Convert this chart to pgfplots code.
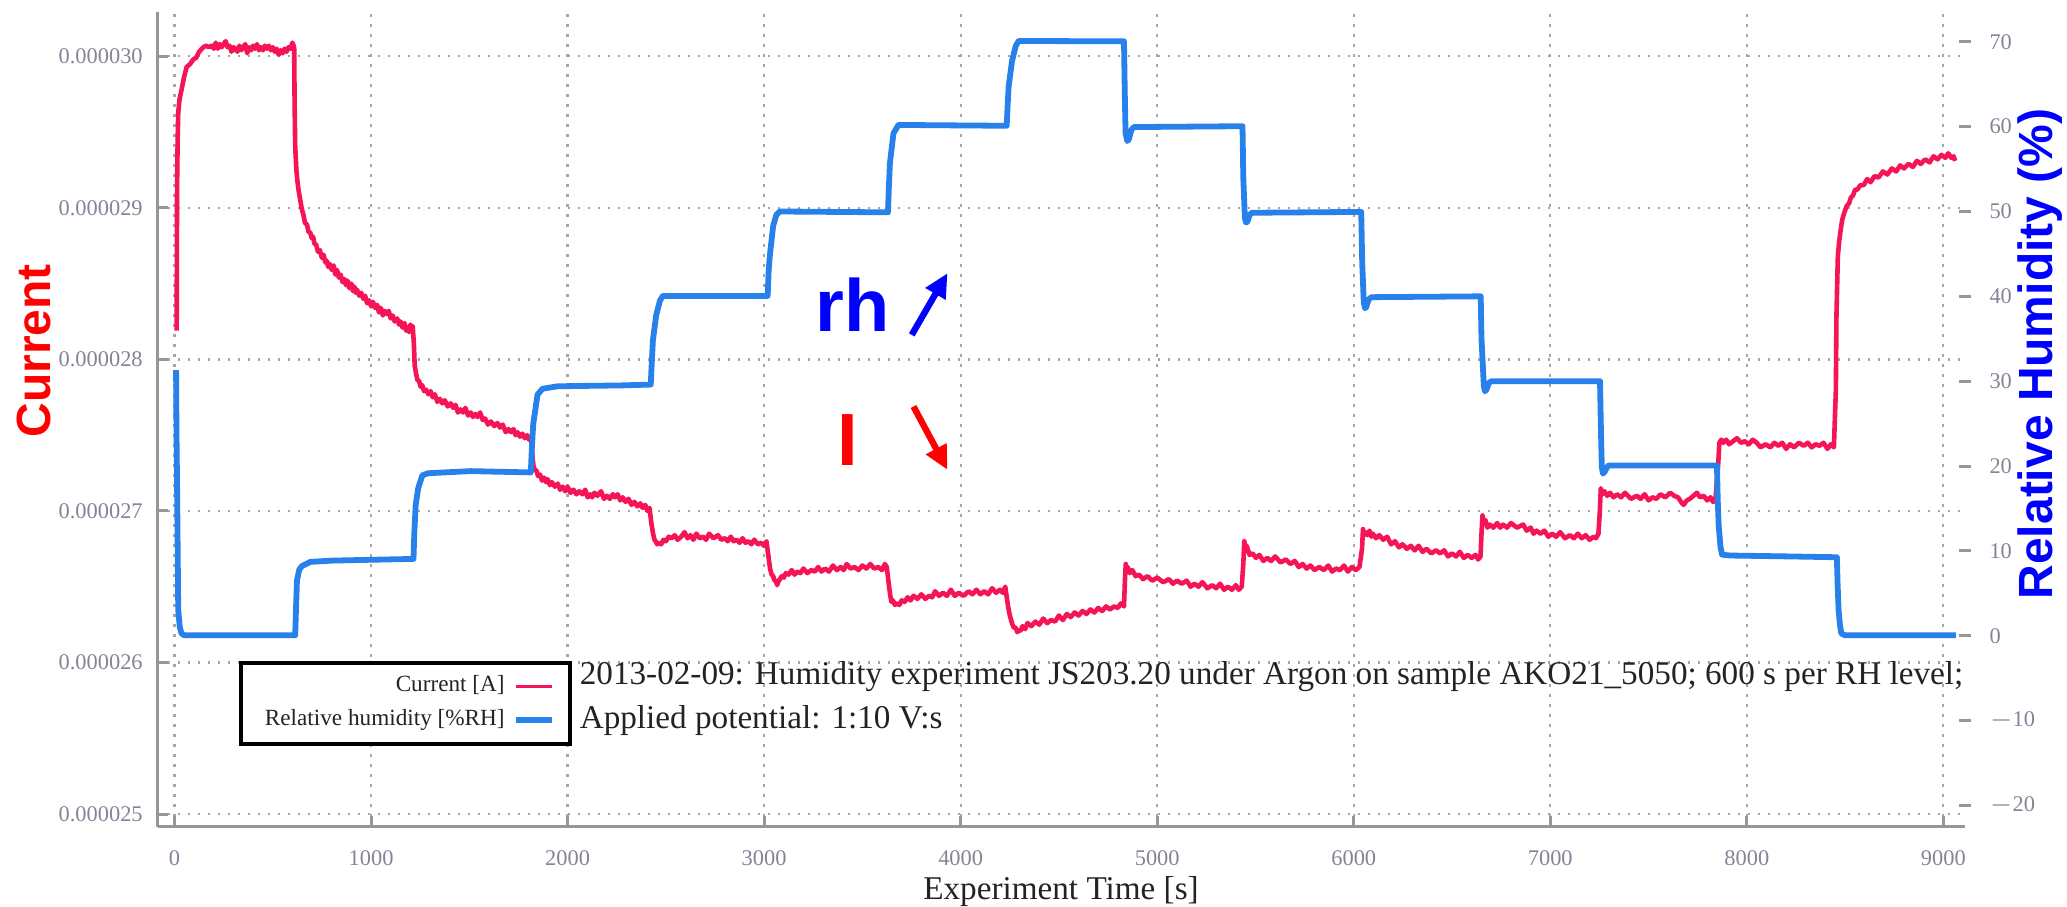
\documentclass[border=0pt]{standalone}
\usepackage{pgfplots}
\pgfplotsset{compat=1.18}
\usepackage{pgfplotstable}
\usepackage{fontspec}
\setmainfont{Liberation Serif}
\newfontfamily\labelfont{Liberation Sans}
\usetikzlibrary{arrows.meta}

\definecolor{curred}{RGB}{245,20,85}
\definecolor{rhblue}{RGB}{40,128,235}
\definecolor{axisgray}{RGB}{150,150,150}
\definecolor{ticktext}{RGB}{135,130,150}
\definecolor{gridgray}{RGB}{165,165,165}
\definecolor{darktext}{RGB}{35,35,35}

% Current through the sample [A]
\pgfplotstableread{
t I
11 28.19e-6
12 28.70e-6
13 29.13e-6
16 29.45e-6
19 29.63e-6
26 29.72e-6
36 29.78e-6
48 29.86e-6
62 29.93e-6
80 29.95e-6
96 29.98e-6
110 29.99e-6
125 30.03e-6
147 30.06e-6
160 30.07e-6
175 30.06e-6
190 30.07e-6
200 30.05e-6
210 30.09e-6
220 30.05e-6
230 30.08e-6
240 30.06e-6
250 30.08e-6
260 30.10e-6
270 30.06e-6
280 30.07e-6
290 30.03e-6
300 30.06e-6
310 30.05e-6
320 30.03e-6
330 30.07e-6
340 30.04e-6
350 30.06e-6
360 30.08e-6
370 30.02e-6
380 30.06e-6
390 30.04e-6
400 30.07e-6
410 30.05e-6
420 30.08e-6
430 30.04e-6
440 30.06e-6
450 30.04e-6
460 30.07e-6
470 30.05e-6
480 30.07e-6
490 30.04e-6
500 30.06e-6
510 30.03e-6
520 30.05e-6
530 30.01e-6
540 30.04e-6
550 30.02e-6
560 30.05e-6
570 30.03e-6
580 30.06e-6
590 30.05e-6
600 30.09e-6
606 30.07e-6
609 30.05e-6
611 29.70e-6
614 29.41e-6
620 29.25e-6
626 29.17e-6
632 29.11e-6
640 29.05e-6
648 28.99e-6
655 28.96e-6
664 28.90e-6
674 28.89e-6
682 28.84e-6
690 28.84e-6
698 28.80e-6
705 28.81e-6
713 28.76e-6
720 28.76e-6
730 28.71e-6
740 28.72e-6
750 28.67e-6
759 28.69e-6
767 28.64e-6
775 28.65e-6
782 28.61e-6
790 28.63e-6
800 28.59e-6
810 28.62e-6
818 28.56e-6
827 28.59e-6
836 28.54e-6
845 28.56e-6
855 28.51e-6
865 28.53e-6
872 28.49e-6
880 28.52e-6
890 28.47e-6
900 28.50e-6
908 28.45e-6
915 28.48e-6
922 28.44e-6
929 28.46e-6
940 28.42e-6
950 28.44e-6
960 28.40e-6
970 28.42e-6
980 28.37e-6
990 28.39e-6
1000 28.35e-6
1010 28.38e-6
1020 28.34e-6
1031 28.36e-6
1040 28.31e-6
1050 28.34e-6
1060 28.29e-6
1070 28.32e-6
1080 28.30e-6
1090 28.32e-6
1100 28.27e-6
1110 28.29e-6
1120 28.25e-6
1133 28.27e-6
1142 28.23e-6
1150 28.25e-6
1160 28.21e-6
1170 28.24e-6
1178 28.19e-6
1185 28.21e-6
1193 28.18e-6
1200 28.23e-6
1206 28.19e-6
1212 28.22e-6
1218 28.10e-6
1222 27.96e-6
1230 27.90e-6
1237 27.86e-6
1244 27.86e-6
1252 27.82e-6
1260 27.83e-6
1270 27.79e-6
1280 27.80e-6
1292 27.77e-6
1303 27.79e-6
1314 27.75e-6
1325 27.77e-6
1337 27.72e-6
1350 27.74e-6
1362 27.71e-6
1375 27.73e-6
1390 27.69e-6
1405 27.71e-6
1418 27.68e-6
1430 27.70e-6
1442 27.65e-6
1455 27.67e-6
1468 27.65e-6
1480 27.68e-6
1494 27.63e-6
1507 27.65e-6
1518 27.62e-6
1530 27.64e-6
1542 27.62e-6
1555 27.65e-6
1568 27.60e-6
1580 27.61e-6
1595 27.57e-6
1610 27.59e-6
1627 27.56e-6
1643 27.58e-6
1656 27.55e-6
1670 27.57e-6
1685 27.52e-6
1700 27.54e-6
1712 27.52e-6
1725 27.54e-6
1735 27.50e-6
1745 27.52e-6
1758 27.49e-6
1770 27.51e-6
1782 27.48e-6
1795 27.50e-6
1804 27.47e-6
1813 27.49e-6
1820 27.38e-6
1826 27.30e-6
1833 27.27e-6
1840 27.27e-6
1850 27.23e-6
1860 27.24e-6
1870 27.20e-6
1880 27.22e-6
1890 27.19e-6
1898 27.21e-6
1910 27.17e-6
1920 27.19e-6
1935 27.16e-6
1950 27.18e-6
1962 27.14e-6
1975 27.16e-6
1988 27.13e-6
2000 27.16e-6
2015 27.12e-6
2030 27.14e-6
2045 27.11e-6
2060 27.13e-6
2075 27.11e-6
2090 27.14e-6
2102 27.09e-6
2115 27.11e-6
2125 27.09e-6
2136 27.12e-6
2152 27.10e-6
2170 27.13e-6
2185 27.08e-6
2200 27.10e-6
2215 27.08e-6
2230 27.11e-6
2242 27.09e-6
2255 27.11e-6
2268 27.07e-6
2280 27.09e-6
2295 27.06e-6
2310 27.08e-6
2325 27.04e-6
2340 27.06e-6
2355 27.03e-6
2370 27.05e-6
2382 27.02e-6
2395 27.04e-6
2406 27.00e-6
2417 27.02e-6
2426 26.92e-6
2435 26.85e-6
2442 26.81e-6
2448 26.80e-6
2456 26.78e-6
2465 26.79e-6
2476 26.78e-6
2488 26.81e-6
2500 26.80e-6
2515 26.83e-6
2530 26.82e-6
2545 26.84e-6
2560 26.81e-6
2578 26.83e-6
2595 26.86e-6
2610 26.82e-6
2625 26.84e-6
2640 26.81e-6
2655 26.85e-6
2672 26.82e-6
2690 26.83e-6
2705 26.81e-6
2720 26.85e-6
2742 26.82e-6
2765 26.84e-6
2782 26.81e-6
2800 26.82e-6
2815 26.80e-6
2830 26.83e-6
2845 26.80e-6
2860 26.81e-6
2875 26.79e-6
2890 26.82e-6
2905 26.79e-6
2920 26.80e-6
2935 26.78e-6
2950 26.81e-6
2968 26.78e-6
2985 26.79e-6
3000 26.77e-6
3012 26.80e-6
3022 26.70e-6
3030 26.62e-6
3038 26.58e-6
3046 26.57e-6
3053 26.54e-6
3060 26.54e-6
3066 26.51e-6
3071 26.53e-6
3080 26.55e-6
3090 26.57e-6
3100 26.56e-6
3110 26.59e-6
3125 26.58e-6
3140 26.61e-6
3155 26.58e-6
3170 26.60e-6
3185 26.59e-6
3200 26.62e-6
3220 26.59e-6
3240 26.61e-6
3258 26.60e-6
3275 26.63e-6
3292 26.60e-6
3310 26.62e-6
3330 26.60e-6
3350 26.64e-6
3370 26.61e-6
3390 26.63e-6
3405 26.61e-6
3420 26.65e-6
3440 26.62e-6
3460 26.63e-6
3480 26.61e-6
3500 26.64e-6
3520 26.62e-6
3540 26.65e-6
3560 26.62e-6
3580 26.63e-6
3600 26.61e-6
3614 26.65e-6
3624 26.63e-6
3634 26.52e-6
3642 26.44e-6
3648 26.40e-6
3655 26.41e-6
3665 26.38e-6
3675 26.39e-6
3688 26.38e-6
3700 26.41e-6
3715 26.40e-6
3730 26.43e-6
3745 26.41e-6
3760 26.44e-6
3780 26.42e-6
3800 26.45e-6
3820 26.42e-6
3840 26.44e-6
3855 26.43e-6
3870 26.47e-6
3890 26.44e-6
3910 26.46e-6
3930 26.44e-6
3950 26.48e-6
3970 26.44e-6
3990 26.46e-6
4015 26.44e-6
4040 26.47e-6
4060 26.45e-6
4080 26.48e-6
4100 26.45e-6
4120 26.47e-6
4140 26.45e-6
4160 26.49e-6
4180 26.46e-6
4200 26.48e-6
4214 26.46e-6
4227 26.50e-6
4240 26.38e-6
4250 26.31e-6
4261 26.26e-6
4270 26.23e-6
4280 26.23e-6
4288 26.20e-6
4295 26.21e-6
4305 26.21e-6
4315 26.24e-6
4328 26.22e-6
4340 26.26e-6
4360 26.24e-6
4380 26.27e-6
4400 26.25e-6
4420 26.29e-6
4440 26.26e-6
4460 26.28e-6
4480 26.27e-6
4500 26.31e-6
4520 26.28e-6
4540 26.32e-6
4560 26.30e-6
4580 26.33e-6
4600 26.31e-6
4620 26.34e-6
4640 26.32e-6
4660 26.35e-6
4680 26.33e-6
4700 26.36e-6
4720 26.34e-6
4740 26.37e-6
4760 26.35e-6
4780 26.37e-6
4800 26.36e-6
4815 26.39e-6
4831 26.37e-6
4836 26.55e-6
4840 26.65e-6
4845 26.61e-6
4850 26.63e-6
4860 26.59e-6
4873 26.61e-6
4890 26.57e-6
4907 26.58e-6
4928 26.55e-6
4950 26.57e-6
4975 26.54e-6
5000 26.56e-6
5030 26.53e-6
5060 26.55e-6
5080 26.52e-6
5100 26.54e-6
5125 26.52e-6
5150 26.54e-6
5170 26.50e-6
5190 26.52e-6
5210 26.50e-6
5230 26.53e-6
5255 26.49e-6
5280 26.51e-6
5300 26.49e-6
5320 26.52e-6
5340 26.48e-6
5360 26.50e-6
5380 26.48e-6
5400 26.51e-6
5415 26.48e-6
5430 26.50e-6
5438 26.65e-6
5443 26.80e-6
5449 26.76e-6
5455 26.77e-6
5470 26.71e-6
5485 26.72e-6
5502 26.69e-6
5520 26.71e-6
5540 26.67e-6
5560 26.69e-6
5580 26.67e-6
5600 26.70e-6
5628 26.66e-6
5655 26.68e-6
5678 26.65e-6
5700 26.67e-6
5720 26.63e-6
5740 26.65e-6
5760 26.62e-6
5780 26.64e-6
5800 26.61e-6
5825 26.63e-6
5848 26.61e-6
5870 26.64e-6
5890 26.60e-6
5910 26.62e-6
5930 26.61e-6
5950 26.64e-6
5970 26.60e-6
5990 26.63e-6
6010 26.61e-6
6029 26.63e-6
6042 26.75e-6
6047 26.88e-6
6053 26.84e-6
6060 26.86e-6
6070 26.84e-6
6080 26.87e-6
6090 26.83e-6
6097 26.85e-6
6113 26.82e-6
6130 26.84e-6
6150 26.81e-6
6170 26.83e-6
6190 26.78e-6
6210 26.80e-6
6230 26.76e-6
6248 26.78e-6
6270 26.75e-6
6290 26.77e-6
6310 26.74e-6
6330 26.77e-6
6350 26.73e-6
6370 26.75e-6
6395 26.72e-6
6418 26.74e-6
6440 26.72e-6
6460 26.74e-6
6480 26.70e-6
6500 26.72e-6
6520 26.70e-6
6540 26.73e-6
6560 26.69e-6
6580 26.71e-6
6600 26.69e-6
6620 26.71e-6
6633 26.68e-6
6645 26.70e-6
6650 26.85e-6
6655 26.97e-6
6662 26.92e-6
6670 26.94e-6
6680 26.89e-6
6692 26.91e-6
6710 26.89e-6
6730 26.92e-6
6745 26.89e-6
6760 26.91e-6
6780 26.89e-6
6800 26.92e-6
6830 26.89e-6
6862 26.91e-6
6880 26.87e-6
6900 26.89e-6
6915 26.85e-6
6930 26.87e-6
6950 26.85e-6
6970 26.87e-6
6990 26.83e-6
7010 26.85e-6
7030 26.83e-6
7050 26.86e-6
7075 26.82e-6
7100 26.84e-6
7120 26.82e-6
7140 26.85e-6
7160 26.82e-6
7180 26.84e-6
7200 26.81e-6
7220 26.83e-6
7232 26.82e-6
7245 26.85e-6
7252 27.00e-6
7257 27.15e-6
7265 27.11e-6
7275 27.13e-6
7290 27.10e-6
7304 27.12e-6
7322 27.09e-6
7340 27.11e-6
7360 27.09e-6
7380 27.12e-6
7410 27.08e-6
7440 27.10e-6
7460 27.08e-6
7480 27.11e-6
7500 27.07e-6
7520 27.09e-6
7540 27.08e-6
7560 27.11e-6
7585 27.09e-6
7610 27.12e-6
7630 27.10e-6
7650 27.09e-6
7665 27.06e-6
7678 27.04e-6
7695 27.07e-6
7710 27.08e-6
7728 27.10e-6
7746 27.12e-6
7762 27.09e-6
7780 27.10e-6
7798 27.07e-6
7815 27.09e-6
7828 27.06e-6
7840 27.07e-6
7854 27.30e-6
7860 27.45e-6
7870 27.47e-6
7880 27.45e-6
7895 27.47e-6
7910 27.44e-6
7930 27.46e-6
7950 27.48e-6
7970 27.45e-6
7990 27.46e-6
8010 27.44e-6
8030 27.47e-6
8050 27.45e-6
8070 27.42e-6
8095 27.44e-6
8120 27.42e-6
8140 27.45e-6
8160 27.43e-6
8180 27.45e-6
8200 27.41e-6
8220 27.44e-6
8240 27.42e-6
8265 27.45e-6
8290 27.43e-6
8310 27.45e-6
8330 27.42e-6
8350 27.44e-6
8370 27.43e-6
8390 27.45e-6
8410 27.41e-6
8428 27.44e-6
8443 27.42e-6
8453 27.80e-6
8456 28.29e-6
8463 28.68e-6
8470 28.78e-6
8477 28.85e-6
8485 28.92e-6
8494 28.96e-6
8507 29.01e-6
8520 29.03e-6
8530 29.07e-6
8540 29.08e-6
8551 29.12e-6
8562 29.12e-6
8578 29.15e-6
8595 29.15e-6
8612 29.19e-6
8630 29.17e-6
8650 29.21e-6
8670 29.20e-6
8692 29.24e-6
8715 29.22e-6
8738 29.26e-6
8760 29.24e-6
8780 29.28e-6
8800 29.26e-6
8822 29.29e-6
8845 29.27e-6
8865 29.31e-6
8885 29.29e-6
8908 29.32e-6
8930 29.30e-6
8950 29.34e-6
8970 29.32e-6
8990 29.35e-6
9010 29.33e-6
9025 29.36e-6
9040 29.33e-6
9052 29.34e-6
9060 29.31e-6
}\currenttable

% Relative humidity [%RH]
\pgfplotstableread{
t RH
8 31.3
10 24.0
13 17.9
19 3.0
27 1.0
36 0.25
50 0.05
614 0.05
618 3.0
623 6.5
635 7.8
648 8.2
691 8.7
800 8.85
1000 8.95
1216 9.05
1220 12.0
1227 15.4
1240 17.4
1261 18.9
1290 19.15
1507 19.4
1700 19.3
1813 19.25
1818 22.0
1825 24.9
1847 28.4
1872 29.1
1950 29.4
2272 29.5
2423 29.6
2428 32.0
2434 34.8
2451 37.8
2470 39.5
2485 40.05
3018 40.05
3023 43.0
3029 44.8
3046 48.3
3062 49.6
3080 50.0
3630 49.9
3635 53.0
3640 55.7
3658 59.2
3683 60.2
4234 60.1
4239 62.5
4244 64.7
4261 67.7
4280 69.5
4295 70.1
4831 70.05
4835 64.0
4839 59.2
4848 58.3
4856 58.5
4868 59.6
4881 59.95
5434 60.05
5438 54.0
5446 49.25
5452 48.7
5459 48.8
5470 49.6
5481 49.85
6038 49.95
6043 44.0
6051 39.3
6057 38.6
6063 38.7
6075 39.6
6089 39.9
6646 40.0
6650 35.0
6662 29.4
6668 28.8
6675 29.0
6688 29.8
6700 30.0
7253 30.0
7257 25.0
7262 19.9
7268 19.1
7276 19.3
7290 19.9
7296 20.05
7848 20.05
7852 16.0
7857 12.9
7866 10.5
7874 9.55
7916 9.45
8200 9.35
8458 9.25
8462 6.0
8467 3.0
8474 1.2
8481 0.25
8500 0.05
9064 0.05
}\rhtable

\pgfplotsset{
  common/.style={
    at={(0,0)}, anchor=south west,
    scale only axis, width=451.75pt, height=203.8pt,
    xmin=-84, xmax=9110,
    tick label style={font=\fontsize{5.6pt}{6pt}\selectfont, text=ticktext},
    /pgf/number format/assume math mode=true,
  },
}

\begin{document}
\begin{tikzpicture}
% current, left axis
\begin{axis}[
  common,
  ymin=24.916e-6, ymax=30.295e-6,
  axis x line*=bottom, axis y line*=left,
  axis line style={draw=axisgray, line width=0.75pt},
  every tick/.style={axisgray, line width=0.75pt},
  tick align=inside, major tick length=2.6pt,
  xtick={0,1000,2000,3000,4000,5000,6000,7000,8000,9000},
  xticklabels={0,1000,2000,3000,4000,5000,6000,7000,8000,9000},
  ytick={25e-6,26e-6,27e-6,28e-6,29e-6,30e-6},
  yticklabels={0.000025,0.000026,0.000027,0.000028,0.000029,0.000030},
  scaled y ticks=false,
  xticklabel style={yshift=-2.5pt},
  yticklabel style={xshift=-0.3pt},
  grid=major,
  major grid style={draw=gridgray, line width=0.55pt, dash pattern=on 0.6pt off 1.9pt},
]
\addplot[curred, line width=1.15pt, line join=round] table[x=t, y=I] {\currenttable};

\node[anchor=base west, font=\labelfont\bfseries\fontsize{18.5pt}{20pt}\selectfont, text=blue, inner sep=0pt]
  at (axis cs:3257,28.181e-6) {rh};
\node[anchor=base west, font=\labelfont\bfseries\fontsize{18.5pt}{20pt}\selectfont, text=red, inner sep=0pt]
  at (axis cs:3370,27.298e-6) {I};
\draw[blue, line width=1.6pt, -{Triangle[length=6pt,width=5.5pt]}]
  (axis cs:3751,28.162e-6) -- (axis cs:3933,28.569e-6);
\draw[red, line width=1.6pt, -{Triangle[length=6pt,width=5.5pt]}]
  (axis cs:3760,27.689e-6) -- (axis cs:3933,27.271e-6);
\end{axis}

% relative humidity, right axis
\begin{axis}[
  common,
  ymin=-22.52, ymax=73.56,
  hide x axis,
  axis y line*=right,
  y axis line style={draw=none},
  every tick/.style={axisgray, line width=0.75pt},
  tick align=center, major tick length=2.8pt,
  ytick={-20,-10,0,10,20,30,40,50,60,70},
  yticklabels={$-$20,$-$10,0,10,20,30,40,50,60,70},
  yticklabel style={anchor=west, xshift=1.2pt},
  legend style={
    at={(axis description cs:0.0448,0.2036)}, anchor=north west,
    draw=black, line width=1pt, fill=white,
    font=\fontsize{5.8pt}{6.5pt}\selectfont, text=darktext,
    inner xsep=4pt, inner ysep=1.2pt, row sep=-1.2pt,
  },
  legend cell align=right,
  legend plot pos=right,
  legend image code/.code={\draw[#1] (0pt,0pt) -- (9pt,0pt);},
]
\addlegendimage{curred, line width=0.8pt}
\addlegendentry{Current [A]}
\addplot[rhblue, line width=1.45pt, line join=round] table[x=t, y=RH] {\rhtable};
\addlegendentry{Relative humidity [\%RH]}
\end{axis}

% axis titles and run notes
\node[rotate=90, font=\labelfont\bfseries\fontsize{12pt}{14pt}\selectfont, text=red]
  at (-30.9pt,119pt) {Current};
\node[rotate=90, font=\labelfont\bfseries\fontsize{12pt}{14pt}\selectfont, text=blue]
  at (470.5pt,118.2pt) {Relative Humidity (\%)};
\node[font=\fontsize{8.3pt}{10pt}\selectfont, text=darktext]
  at (225.75pt,-16.2pt) {Experiment Time [s]};
\node[anchor=base west, inner sep=0pt, font=\fontsize{8.3pt}{10pt}\selectfont, text=darktext]
  at (105.25pt,35.5pt) {2013-02-09: Humidity experiment JS203.20 under Argon on sample AKO21\_5050; 600 s per RH level;};
\node[anchor=base west, inner sep=0pt, font=\fontsize{8.3pt}{10pt}\selectfont, text=darktext]
  at (105.25pt,24.5pt) {Applied potential: 1:10 V:s};

\pgfresetboundingbox
\useasboundingbox (-39.5pt,-20pt) rectangle (477.25pt,206.7pt);
\end{tikzpicture}
\end{document}
